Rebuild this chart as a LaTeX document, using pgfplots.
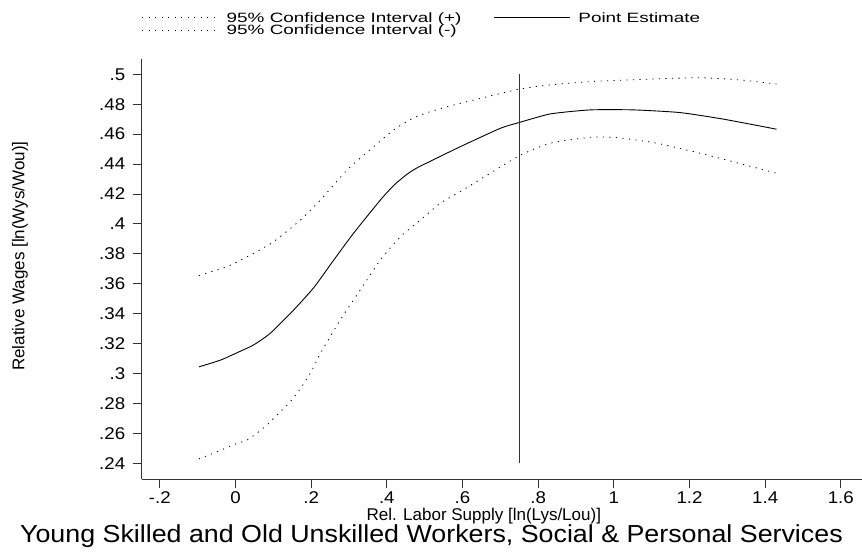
\documentclass[border=0pt]{standalone}
\usepackage{fontspec}
\setmainfont{Liberation Sans}
\newfontfamily\legfont[FakeStretch=1.40]{Liberation Sans}
\newfontfamily\tickfont[FakeStretch=1.10]{Liberation Sans}
\newfontfamily\titlefont[FakeStretch=1.09]{Liberation Sans}
\usepackage{pgfplots}
\pgfplotsset{compat=1.18}
\begin{document}
\begin{tikzpicture}
\useasboundingbox (0,0) rectangle (862bp,559bp);
\begin{axis}[
  scale only axis,
  width=720.3bp, height=420.3bp,
  at={(141.7bp,79.7bp)}, anchor=south west,
  xmin=-0.248, xmax=1.656, ymin=0.2294, ymax=0.5102,
  axis x line*=bottom, axis y line*=left,
  axis line style={black!80, line width=0.9bp, -},
  tick align=outside, major tick length=9bp,
  tick style={black!80, line width=0.9bp},
  xtick={-0.2,0,0.2,0.4,0.6,0.8,1,1.2,1.4,1.6},
  xticklabels={-.2,0,.2,.4,.6,.8,1,1.2,1.4,1.6},
  ytick={0.24,0.26,0.28,0.30,0.32,0.34,0.36,0.38,0.40,0.42,0.44,0.46,0.48,0.50},
  yticklabels={.24,.26,.28,.3,.32,.34,.36,.38,.4,.42,.44,.46,.48,.5},
  ticklabel style={font=\tickfont\fontsize{17bp}{19bp}\selectfont},
  yticklabel style={xshift=-4bp},
  /pgf/number format/assume math mode=true,
  xlabel={Rel. Labor Supply [ln(Lys/Lou)]},
  ylabel={Relative Wages [ln(Wys/Wou)]},
  xlabel style={font=\fontsize{17bp}{19bp}\selectfont, at={(axis description cs:0.475,-0.0875)}, anchor=center},
  ylabel style={font=\fontsize{17bp}{19bp}\selectfont, at={(axis description cs:-0.169,0.531)}, anchor=center},
  title={Young Skilled and Old Unskilled Workers, Social \& Personal Services},
  title style={font=\titlefont\fontsize{24.6bp}{27bp}\selectfont, at={(axis description cs:0.4023,-0.1642)}, anchor=base},
  legend columns=2,
  legend cell align=left,
  legend style={draw=none, fill=none, at={(axis description cs:0,1.111)}, anchor=north west,
    font=\legfont\fontsize{13.5bp}{13.5bp}\selectfont, inner xsep=0pt, inner ysep=0pt, row sep=0pt, column sep=0pt,
    nodes={inner xsep=0pt, inner ysep=0pt, text height=9.5bp, text depth=3.2bp},
    /tikz/every even column/.append style={column sep=32bp}},
  legend image code/.code={\draw[#1] (0bp,1.6bp) -- (76bp,1.6bp); \path (84bp,1.6bp);},
  clip=false,
]
\addplot[black, line width=0.8bp, dash pattern=on 1.2bp off 5.3bp, smooth, tension=0.35] coordinates {
(-0.097,0.3655) (-0.022,0.3715) (0.048,0.3804) (0.101,0.3882) (0.172,0.4027)
(0.2245,0.416) (0.295,0.4361) (0.365,0.4516) (0.418,0.4628) (0.46,0.4695) (0.5,0.4738)
(0.541,0.4770) (0.594,0.4806) (0.749,0.490) (0.832,0.4929) (0.938,0.4951)
(1.087,0.4967) (1.228,0.4977) (1.334,0.4962) (1.43,0.4935)};
\addlegendentry{95\% Confidence Interval (+)}
\addplot[black, line width=0.9bp, line join=round, smooth, tension=0.35] coordinates {
(-0.097,0.3045) (-0.04,0.309) (0.0,0.3135) (0.048,0.3192) (0.092,0.327)
(0.154,0.3426) (0.207,0.3575) (0.26,0.376) (0.312,0.3938) (0.383,0.416)
(0.42,0.4262) (0.455,0.4335) (0.48,0.4375) (0.52,0.4425) (0.594,0.4516) (0.700,0.4639)
(0.749,0.4677) (0.832,0.4735) (0.938,0.4762) (1.052,0.4762) (1.175,0.4744)
(1.290,0.470) (1.43,0.4633)};
\addlegendentry{Point Estimate}
\addplot[black, line width=0.8bp, dash pattern=on 1.2bp off 5.3bp, smooth, tension=0.35] coordinates {
(-0.097,0.243) (-0.048,0.2479) (0,0.253) (0.031,0.2557) (0.0616,0.2612)
(0.088,0.2669) (0.114,0.2735) (0.145,0.2813) (0.172,0.2902) (0.2026,0.3025)
(0.2245,0.3136) (0.277,0.3359) (0.330,0.356) (0.383,0.376) (0.436,0.3915)
(0.489,0.4027) (0.541,0.4138) (0.594,0.4216) (0.749,0.4454) (0.832,0.4539)
(0.938,0.4579) (1.008,0.4577) (1.114,0.4539) (1.246,0.4461) (1.43,0.4339)};
\addlegendentry{95\% Confidence Interval (-)}
\addplot[black!80, line width=1bp, forget plot] coordinates {(0.75,0.24) (0.75,0.5)};
\end{axis}
\end{tikzpicture}
\end{document}
